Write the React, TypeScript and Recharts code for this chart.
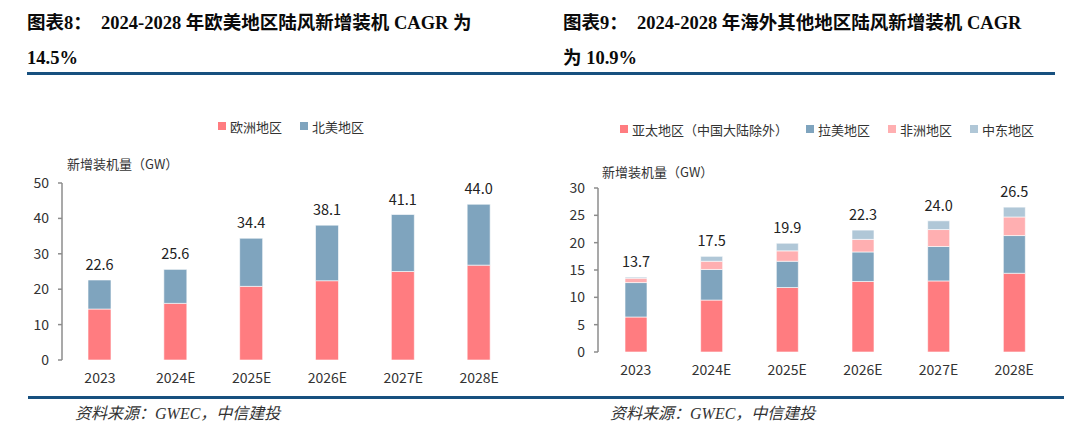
import React from 'react'
import { Bar, BarChart, LabelList, XAxis, YAxis } from 'recharts'

// categories
const years = ['2023', '2024E', '2025E', '2026E', '2027E', '2028E']

// 图表8: 欧美
const europe = [14.4, 16.0, 20.8, 22.4, 25.0, 26.8]
const northAmerica = [8.2, 9.6, 13.6, 15.7, 16.1, 17.2]
const totalsWest = [22.6, 25.6, 34.4, 38.1, 41.1, 44.0]
const ticksWest = [0, 10, 20, 30, 40, 50]

// 图表9: 海外其他地区
const asiaPacific = [6.4, 9.5, 11.8, 12.9, 13.0, 14.4]
const latinAmerica = [6.3, 5.6, 4.8, 5.4, 6.3, 6.9]
const africa = [0.8, 1.5, 1.9, 2.3, 3.1, 3.4]
const middleEast = [0.2, 0.9, 1.4, 1.7, 1.6, 1.8]
const totalsOther = [13.7, 17.5, 19.9, 22.3, 24.0, 26.5]
const ticksOther = [0, 5, 10, 15, 20, 25, 30]

const RED = '#ff7c80'
const BLUE = '#7fa4be'
const PINK = '#ffafb1'
const LIGHT_BLUE = '#b0c7d7'
const AXIS = '#8c8c8c'
const CHART_FONT = '"Noto Sans CJK SC", "Noto Sans", sans-serif'
const HEAD_FONT = '"Liberation Serif", "Noto Sans CJK SC", serif'

type Series = { key: string; name: string; color: string; values: number[] }

const westSeries: Series[] = [
  { key: 'eu', name: '欧洲地区', color: RED, values: europe },
  { key: 'na', name: '北美地区', color: BLUE, values: northAmerica },
]

const otherSeries: Series[] = [
  { key: 'ap', name: '亚太地区（中国大陆除外）', color: RED, values: asiaPacific },
  { key: 'la', name: '拉美地区', color: BLUE, values: latinAmerica },
  { key: 'af', name: '非洲地区', color: PINK, values: africa },
  { key: 'me', name: '中东地区', color: LIGHT_BLUE, values: middleEast },
]

type ChartProps = {
  series: Series[]
  totals: number[]
  ticks: number[]
  plotLeft: number
  plotRight: number
  plotTop: number
  plotBottom: number
  barSize: number
  legendX: number
  legendY: number
  titleY: number
  titleX: number
}

function StackChart(p: ChartProps) {
  const data = years.map((year, i) => {
    const row: any = { year, total: p.totals[i] }
    p.series.forEach((s) => (row[s.key] = s.values[i]))
    return row
  })
  const yAxisWidth = 40
  const xAxisHeight = 30
  const last = p.series.length - 1

  return (
    <div style={{ position: 'absolute', left: 0, top: 0, width: 540, height: 437 }}>
      <BarChart
        width={540}
        height={437}
        data={data}
        margin={{
          top: p.plotTop,
          right: 540 - p.plotRight,
          bottom: 437 - p.plotBottom - xAxisHeight,
          left: p.plotLeft - yAxisWidth,
        }}
      >
        {/* tick marks between categories, pointing up */}
        <XAxis
          xAxisId="edge"
          type="number"
          domain={[0, 6]}
          ticks={[1, 2, 3, 4, 5, 6]}
          allowDataOverflow
          mirror
          height={0}
          tick={false}
          tickSize={4}
          axisLine={{ stroke: AXIS, strokeWidth: 1.5 }}
          tickLine={{ stroke: AXIS, strokeWidth: 1.5 }}
        />
        <XAxis
          xAxisId="cat"
          dataKey="year"
          height={xAxisHeight}
          axisLine={false}
          tickLine={false}
          tickSize={4}
          tickMargin={9}
          tick={{ fill: '#333', fontSize: 14, fontFamily: CHART_FONT }}
        />
        <YAxis
          width={yAxisWidth}
          domain={[0, p.ticks[p.ticks.length - 1]]}
          ticks={p.ticks}
          interval={0}
          tickSize={4}
          tickMargin={9}
          axisLine={{ stroke: AXIS, strokeWidth: 1.5 }}
          tickLine={{ stroke: AXIS, strokeWidth: 1.5 }}
          tick={{ fill: '#333', fontSize: 14, fontFamily: CHART_FONT }}
        />
        {p.series.map((s, i) => (
          <Bar
            key={s.key}
            xAxisId="cat"
            dataKey={s.key}
            name={s.name}
            stackId="a"
            fill={s.color}
            stroke="#fff"
            strokeWidth={0.6}
            barSize={p.barSize}
            isAnimationActive={false}
          >
            {i === last && (
              <LabelList
                dataKey="total"
                position="top"
                offset={10}
                fill="#222"
                fontSize={14.5}
                fontFamily={CHART_FONT}
                formatter={(v: any) => Number(v).toFixed(1)}
              />
            )}
          </Bar>
        ))}
      </BarChart>

      <div
        style={{
          position: 'absolute',
          left: p.legendX,
          top: p.legendY - 10,
          height: 20,
          display: 'flex',
          alignItems: 'center',
          fontFamily: CHART_FONT,
          fontSize: 13,
          color: '#333',
          whiteSpace: 'nowrap',
        }}
      >
        {p.series.map((s) => (
          <div key={s.key} style={{ display: 'flex', alignItems: 'center', marginRight: 18 }}>
            <span style={{ width: 8, height: 8, background: s.color, marginRight: 4 }} />
            <span>{s.name}</span>
          </div>
        ))}
      </div>

      <div
        style={{
          position: 'absolute',
          left: p.titleX,
          top: p.titleY - 10,
          lineHeight: '20px',
          fontFamily: CHART_FONT,
          fontSize: 13,
          color: '#333',
          whiteSpace: 'nowrap',
        }}
      >
        新增装机量（GW）
      </div>
    </div>
  )
}

const headStyle: React.CSSProperties = {
  position: 'absolute',
  fontFamily: HEAD_FONT,
  fontWeight: 'bold',
  fontSize: 18.5,
  lineHeight: '24px',
  color: '#0a0a0a',
  whiteSpace: 'pre',
}

const footStyle: React.CSSProperties = {
  position: 'absolute',
  top: 403,
  fontFamily: HEAD_FONT,
  fontStyle: 'italic',
  fontSize: 16,
  lineHeight: '22px',
  color: '#333',
  whiteSpace: 'pre',
}

export default function App() {
  return (
    <div style={{ position: 'absolute', left: 0, top: 0, width: 1080, height: 437, background: '#fff', overflow: 'hidden' }}>
      <div style={{ ...headStyle, left: 27, top: 11 }}>图表8：  2024-2028 年欧美地区陆风新增装机 CAGR 为</div>
      <div style={{ ...headStyle, left: 27, top: 46 }}>14.5%</div>
      <div style={{ ...headStyle, left: 563, top: 11 }}>图表9：  2024-2028 年海外其他地区陆风新增装机 CAGR</div>
      <div style={{ ...headStyle, left: 563, top: 46 }}>为 10.9%</div>

      <div style={{ position: 'absolute', left: 27, top: 72, width: 1028, height: 3, background: '#17507f' }} />

      <div style={{ position: 'absolute', left: 0, top: 0 }}>
        <StackChart
          series={westSeries}
          totals={totalsWest}
          ticks={ticksWest}
          plotLeft={62}
          plotRight={517}
          plotTop={183}
          plotBottom={360}
          barSize={23}
          legendX={218}
          legendY={126}
          titleX={67}
          titleY={164}
        />
      </div>
      <div style={{ position: 'absolute', left: 540, top: 0 }}>
        <StackChart
          series={otherSeries}
          totals={totalsOther}
          ticks={ticksOther}
          plotLeft={58}
          plotRight={512}
          plotTop={188}
          plotBottom={352}
          barSize={22}
          legendX={80}
          legendY={129}
          titleX={62}
          titleY={172}
        />
      </div>

      <div style={{ position: 'absolute', left: 28, top: 396, width: 1036, height: 3, background: '#17507f' }} />
      <div style={{ ...footStyle, left: 75 }}>资料来源：GWEC，中信建投</div>
      <div style={{ ...footStyle, left: 610 }}>资料来源：GWEC，中信建投</div>
    </div>
  )
}
